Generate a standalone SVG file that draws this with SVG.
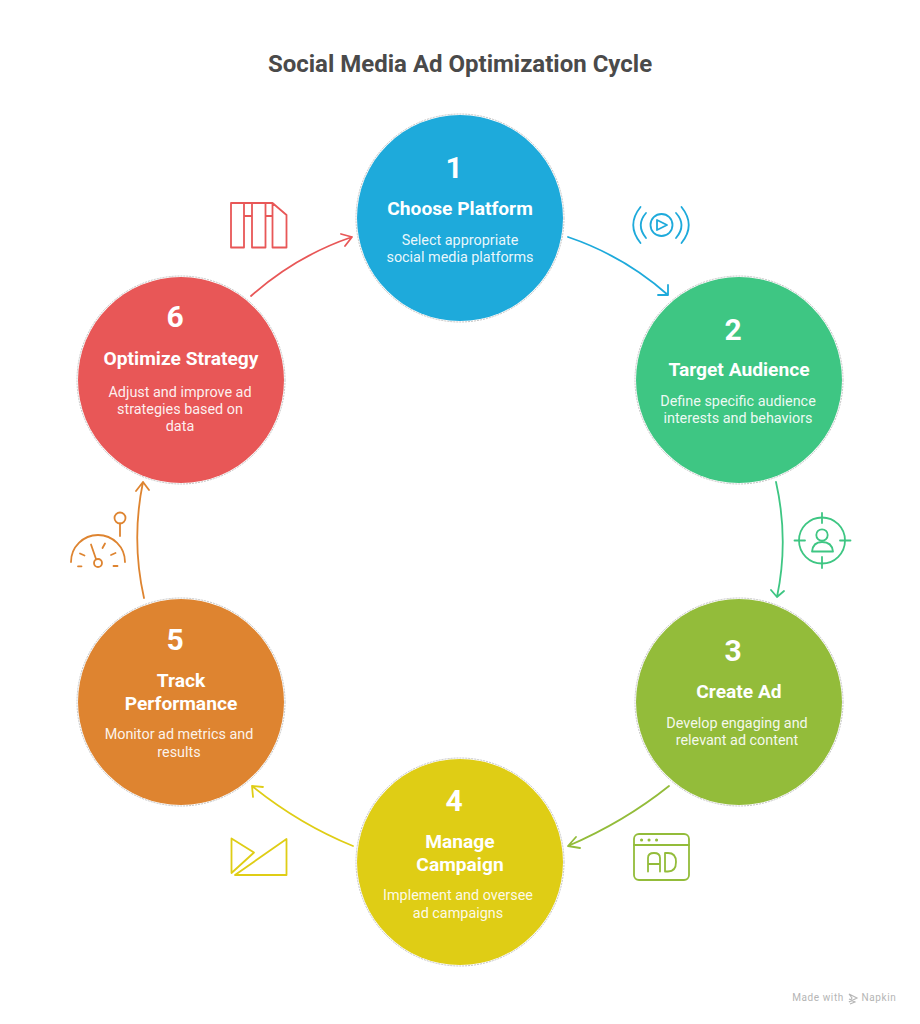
<svg xmlns="http://www.w3.org/2000/svg" width="920" height="1024" viewBox="0 0 920 1024">
<style>
text{font-family:Roboto,"Liberation Sans",sans-serif;text-anchor:middle}
.t{font-size:24px;font-weight:700;fill:#4a4a4a}
.n{font-size:30px;font-weight:700;fill:#fff}
.l{font-size:19.200px;font-weight:700;fill:#fff}
.d{font-size:14.400px;fill:#fff;fill-opacity:.92}
.ring{fill:none;stroke:#c4c4c4;stroke-width:1;stroke-dasharray:2 1}
.a,.i{fill:none;stroke-width:1.800;stroke-linecap:round;stroke-linejoin:round}
.f{font-size:10px;fill:#b5b5b5;letter-spacing:.6px}
</style>
<rect width="920" height="1024" fill="#fff"/>
<text class="t" x="460" y="72">Social Media Ad Optimization Cycle</text>
<g id="connectors">
<path class="a" stroke="#1eaadb" d="M568 237Q624 256 668 295M668 285L668 295L658 295"/>
<path class="a" stroke="#3ec683" d="M776 482Q789 540 777 597M771 590L777 597L784 591"/>
<path class="a" stroke="#93bc3a" d="M669 786Q624 822 568 846M576 837L568 846L580 848"/>
<path class="a" stroke="#dfcd15" d="M353 846Q299 824 252 786M253 797L252 786L263 787"/>
<path class="a" stroke="#de8430" d="M144 598Q131 540 143 482M136 491L143 482L149 490"/>
<path class="a" stroke="#e85757" d="M251 296Q296 256 352 237M341 234L352 237L345 246"/>
</g>
<g id="node-1"><circle cx="460" cy="218" r="104" class="ring"/><circle cx="460" cy="218" r="103" fill="#1eaadb"/>
<text class="n" x="454" y="178">1</text><text class="l" x="460" y="214.500">Choose Platform</text><text class="d" x="460" y="244.500">Select appropriate</text><text class="d" x="460" y="262">social media platforms</text></g>
<g id="node-2"><circle cx="739" cy="380" r="104" class="ring"/><circle cx="739" cy="380" r="103" fill="#3ec683"/>
<text class="n" x="733" y="340">2</text><text class="l" x="739" y="375.500">Target Audience</text><text class="d" x="738" y="405.500">Define specific audience</text><text class="d" x="738" y="422.500">interests and behaviors</text></g>
<g id="node-3"><circle cx="739" cy="702" r="104" class="ring"/><circle cx="739" cy="702" r="103" fill="#93bc3a"/>
<text class="n" x="733" y="661">3</text><text class="l" x="739" y="697.500">Create Ad</text><text class="d" x="737" y="727.500">Develop engaging and</text><text class="d" x="737" y="744.500">relevant ad content</text></g>
<g id="node-4"><circle cx="460" cy="862" r="104" class="ring"/><circle cx="460" cy="862" r="103" fill="#dfcd15"/>
<text class="n" x="454" y="811">4</text><text class="l" x="460" y="847.500">Manage</text><text class="l" x="460" y="870.500">Campaign</text><text class="d" x="458" y="900">Implement and oversee</text><text class="d" x="458" y="917.500">ad campaigns</text></g>
<g id="node-5"><circle cx="181" cy="702" r="104" class="ring"/><circle cx="181" cy="702" r="103" fill="#de8430"/>
<text class="n" x="175" y="650">5</text><text class="l" x="181" y="686.500">Track</text><text class="l" x="181" y="709.500">Performance</text><text class="d" x="179" y="739">Monitor ad metrics and</text><text class="d" x="179" y="756.500">results</text></g>
<g id="node-6"><circle cx="181" cy="380" r="104" class="ring"/><circle cx="181" cy="380" r="103" fill="#e85757"/>
<text class="n" x="175" y="327">6</text><text class="l" x="181" y="364.500">Optimize Strategy</text><text class="d" x="180" y="397">Adjust and improve ad</text><text class="d" x="180" y="414">strategies based on</text><text class="d" x="180" y="431">data</text></g>
<g id="icon-1">
<circle class="i" stroke="#1eaadb" cx="661.500" cy="225" r="11"/><path class="i" stroke="#1eaadb" d="M657 220L667 225L657 230Z"/>
<path class="i" stroke="#1eaadb" d="M646 213Q635.500 225 646 238M676 213Q687 225 676 238M640.500 207Q626 225 640.500 243M681.500 207Q696 225 681.500 243"/>
</g>
<g id="icon-2">
<circle class="i" stroke="#3ec683" cx="822" cy="540.500" r="23"/>
<path class="i" stroke="#3ec683" d="M822 513V523M822 557V568M794.500 540.500H805M840 540.500H850.500"/>
<circle class="i" stroke="#3ec683" cx="822" cy="535" r="5.700"/>
<path class="i" stroke="#3ec683" d="M812 551.500Q813 542 822 542Q832 542 833 551.500Z"/>
</g>
<g id="icon-3">
<rect class="i" stroke="#93bc3a" x="634" y="834" width="55" height="46" rx="5"/>
<path class="i" stroke="#93bc3a" d="M634 845H689"/>
<path class="i" stroke="#93bc3a" style="stroke-width:3" d="M641.500 840H641.600M649 840H649.100M656.500 840H656.600"/>
<path class="i" stroke="#93bc3a" d="M648 871.500V858Q648 853 654 853Q660 853 660 858V871.500M648 864H660M665 853V871.500H668Q676 871.500 676 862Q676 853 668 853Z"/>
</g>
<g id="icon-4">
<path class="i" stroke="#dfcd15" d="M231.500 838.500L254 852.500L231.500 873Z"/>
<path class="i" stroke="#dfcd15" d="M235 875L286.500 839V875Z"/>
</g>
<g id="icon-5">
<path class="i" stroke="#de8430" d="M71 562A27 27 0 0 1 125 562"/>
<circle class="i" stroke="#de8430" cx="120" cy="518" r="5.500"/>
<path class="i" stroke="#de8430" d="M120 523.500V536"/>
<circle class="i" stroke="#de8430" cx="98" cy="563" r="4"/>
<path class="i" stroke="#de8430" d="M91 544.500L96 559M80 553.500L84.500 555.500M102.500 548L105 543.500M111 555L115.500 553M78 566.300H81.500M113.500 566H117.500"/>
</g>
<g id="icon-6">
<path class="i" stroke="#e85757" d="M231 203H244V247.500H231ZM252 203H265.500V247.500H252ZM272.500 203L286.500 215V247.500H272.500ZM244 216H252M265.500 216H272.500M244 203H272.500"/>
</g>
<g id="footer">
<text class="f" x="818" y="1001">Made with</text>
<path d="M849 994L857 998L849 1002L852 998ZM849 999L855 1002L850 1004" fill="none" stroke="#b5b5b5" stroke-width="1.100"/>
<text class="f" x="879" y="1001">Napkin</text>
</g>
</svg>
